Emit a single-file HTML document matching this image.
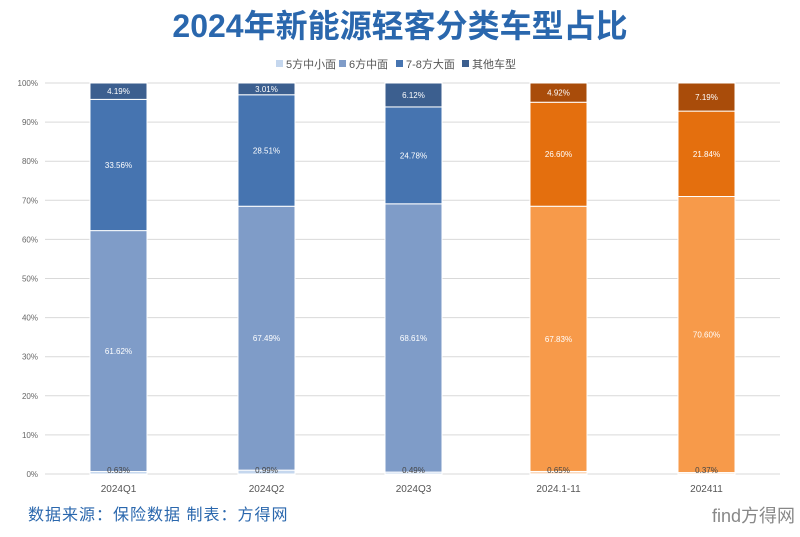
<!DOCTYPE html>
<html><head><meta charset="utf-8"><style>
body{margin:0;width:800px;height:532px;background:#fff;overflow:hidden;font-family:"Liberation Sans","Noto Sans CJK SC",sans-serif}
</style></head><body>
<svg id="s" width="800" height="532" xmlns="http://www.w3.org/2000/svg" font-family="Liberation Sans, Noto Sans CJK SC, sans-serif">
<text x="400" y="37" text-anchor="middle" font-size="32" font-weight="bold" fill="#2a67ad" font-family="Liberation Sans, Noto Sans CJK SC, sans-serif">2024年新能源轻客分类车型占比</text>
<g font-size="11" fill="#555">
<rect x="276" y="60" width="7" height="7" fill="#c5d7ee"/><text x="286" y="68">5方中小面</text>
<rect x="339" y="60" width="7" height="7" fill="#7f9cc8"/><text x="349" y="68">6方中面</text>
<rect x="396" y="60" width="7" height="7" fill="#4674b0"/><text x="406" y="68">7-8方大面</text>
<rect x="462" y="60" width="7" height="7" fill="#3c5f8f"/><text x="472" y="68">其他车型</text>
</g>
<g id="g"></g>
<text x="28" y="520" font-size="16" fill="#2a67ad" letter-spacing="1">数据来源：保险数据 制表：方得网</text>
<text x="795" y="522" text-anchor="end" font-size="18" fill="#888">find方得网</text>
</svg>
<script>
var g=document.getElementById('g'),h='',t='';
var y0=474,k=3.91;
for(var i=0;i<=10;i++){var y=y0-i*10*k;h+='<line x1="45" x2="780" y1="'+y+'" y2="'+y+'" stroke="#d9d9d9" stroke-width="1"/>';h+='<text x="38" y="'+(y+3)+'" text-anchor="end" font-size="8" fill="#666">'+(i*10)+'%</text>';}
var data=[["2024Q1",90,[0.63,61.62,33.56,4.19],0],["2024Q2",238,[0.99,67.49,28.51,3.01],0],["2024Q3",385,[0.49,68.61,24.78,6.12],0],["2024.1-11",530,[0.65,67.83,26.60,4.92],1],["202411",678,[0.37,70.60,21.84,7.19],1]];
var blue=["#c5d7ee","#7f9cc8","#4674b0","#3c5f8f"],org=["#fbd9bd","#f79a4a","#e46f0e","#a94c0a"];
data.forEach(function(d){var c=d[3]?org:blue,acc=0,x=d[1],w=57;
d[2].forEach(function(v,j){var top=y0-(acc+v)*k,ht=v*k;h+='<rect x="'+x+'" y="'+top+'" width="'+w+'" height="'+ht+'" fill="'+c[j]+'" stroke="#fff" stroke-width="1"/>';
var ty=j==0?y0-1:top+ht/2+3;t+='<text x="'+(x+w/2)+'" y="'+ty+'" text-anchor="middle" font-size="8" fill="'+(j==0?'#444':'#fff')+'">'+v.toFixed(2)+'%</text>';acc+=v;});
t+='<text x="'+(x+w/2)+'" y="492" text-anchor="middle" font-size="10" fill="#555">'+d[0]+'</text>';});
g.innerHTML=h+t;
</script>
</body></html>
